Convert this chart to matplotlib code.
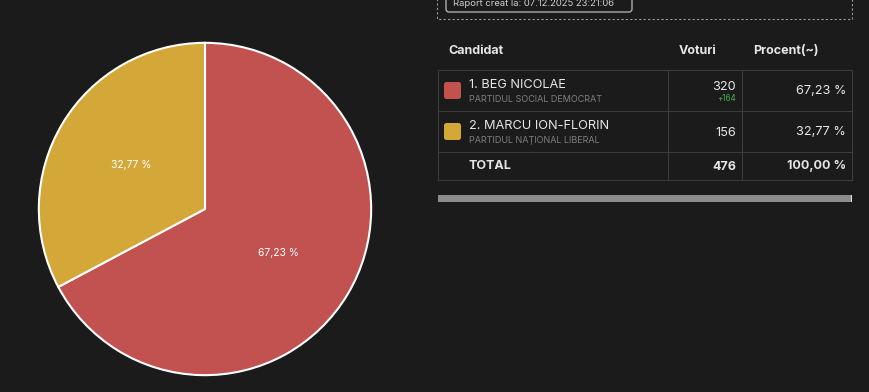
import matplotlib.pyplot as plt
from matplotlib.patches import FancyBboxPatch, Rectangle

plt.rcParams['font.family'] = ['Inter', 'DejaVu Sans']

# data
candidates = ["1. BEG NICOLAE", "2. MARCU ION-FLORIN"]
parties = ["PARTIDUL SOCIAL DEMOCRAT", "PARTIDUL NAȚIONAL LIBERAL"]
votes = [320, 156]
percents = ["67,23 %", "32,77 %"]
lead_diff = ["+164", ""]
total_votes = 476
total_percent = "100,00 %"
colors = ["#c25250", "#d3a839"]
report_text = "Raport creat la: 07.12.2025 23:21:06"

bg = "#1b1b1b"
fg = "#e6e6e6"
line_c = "#3b3b3b"

fig = plt.figure(figsize=(8.7, 3.92), dpi=100, facecolor=bg)

# pie
axp = fig.add_axes([38 / 870, 16 / 392, 334 / 870, 334 / 392])
axp.set_facecolor(bg)
wedges, texts, autotexts = axp.pie(
    votes, colors=colors, startangle=90, counterclock=False,
    autopct=lambda p: f"{p:.2f} %".replace(".", ","), pctdistance=0.515,
    wedgeprops=dict(edgecolor="white", linewidth=1.5),
    textprops=dict(color="white", fontsize=7.5))
axp.set_aspect("equal")
axp.set_xlim(-1.005, 1.005)
axp.set_ylim(-1.005, 1.005)

# table in pixel coordinates
ax = fig.add_axes([0, 0, 1, 1])
ax.set_xlim(0, 870)
ax.set_ylim(392, 0)
ax.axis("off")
ax.patch.set_alpha(0)

# report box
ax.add_patch(Rectangle((437, -10), 415, 29, fill=False, edgecolor="#9a9a9a",
                       linestyle=(0, (2, 2)), linewidth=0.8))
ax.add_patch(FancyBboxPatch((446, -8), 186, 20, boxstyle="round,pad=0,rounding_size=3",
                            fill=False, edgecolor="#bdbdbd", linewidth=0.9))
ax.text(453, 3, report_text, color="#cfcfcf", fontsize=6.8, va="center", ha="left")

# header
ax.text(448, 51, "Candidat", color=fg, fontsize=9, fontweight="bold", va="center")
ax.text(679, 51, "Voturi", color=fg, fontsize=9, fontweight="bold", va="center")
ax.text(753, 51, "Procent(~)", color=fg, fontsize=9, fontweight="bold", va="center")

row_tops = [70, 111, 152, 180]
for y in row_tops:
    ax.plot([438, 852], [y, y], color=line_c, lw=0.8)
for x in [438, 668, 742, 852]:
    ax.plot([x, x], [70, 180], color=line_c, lw=0.8)

for i, name in enumerate(candidates):
    mid = (row_tops[i] + row_tops[i + 1]) / 2
    ax.add_patch(FancyBboxPatch((444, mid - 8.5), 17, 17,
                                boxstyle="round,pad=0,rounding_size=2.5",
                                facecolor=colors[i], edgecolor="none"))
    ax.text(469, mid - 6, name, color=fg, fontsize=9.2, va="center")
    ax.text(469, mid + 8.5, parties[i], color="#7f7f7f", fontsize=6.5, va="center")
    if lead_diff[i]:
        ax.text(736, mid - 4, str(votes[i]), color=fg, fontsize=9.2, va="center", ha="right")
        ax.text(736, mid + 7.5, lead_diff[i], color="#4caf50", fontsize=5.8, va="center", ha="right")
    else:
        ax.text(736, mid + 1, str(votes[i]), color=fg, fontsize=9.2, va="center", ha="right")
    ax.text(846, mid + 0.5, percents[i], color=fg, fontsize=9.2, va="center", ha="right")

mid = (row_tops[2] + row_tops[3]) / 2
ax.text(469, mid, "TOTAL", color=fg, fontsize=9, fontweight="bold", va="center")
ax.text(736, mid + 1, str(total_votes), color=fg, fontsize=9, fontweight="bold", va="center", ha="right")
ax.text(846, mid, total_percent, color=fg, fontsize=9, fontweight="bold", va="center", ha="right")

# progress bar
ax.add_patch(Rectangle((438, 195), 414, 7, facecolor="#8c8c8c", edgecolor="none"))
ax.add_patch(Rectangle((851, 195), 1.5, 7, facecolor="#e0e0e0", edgecolor="none"))

fig.savefig("out.png", dpi=100, facecolor=bg)
